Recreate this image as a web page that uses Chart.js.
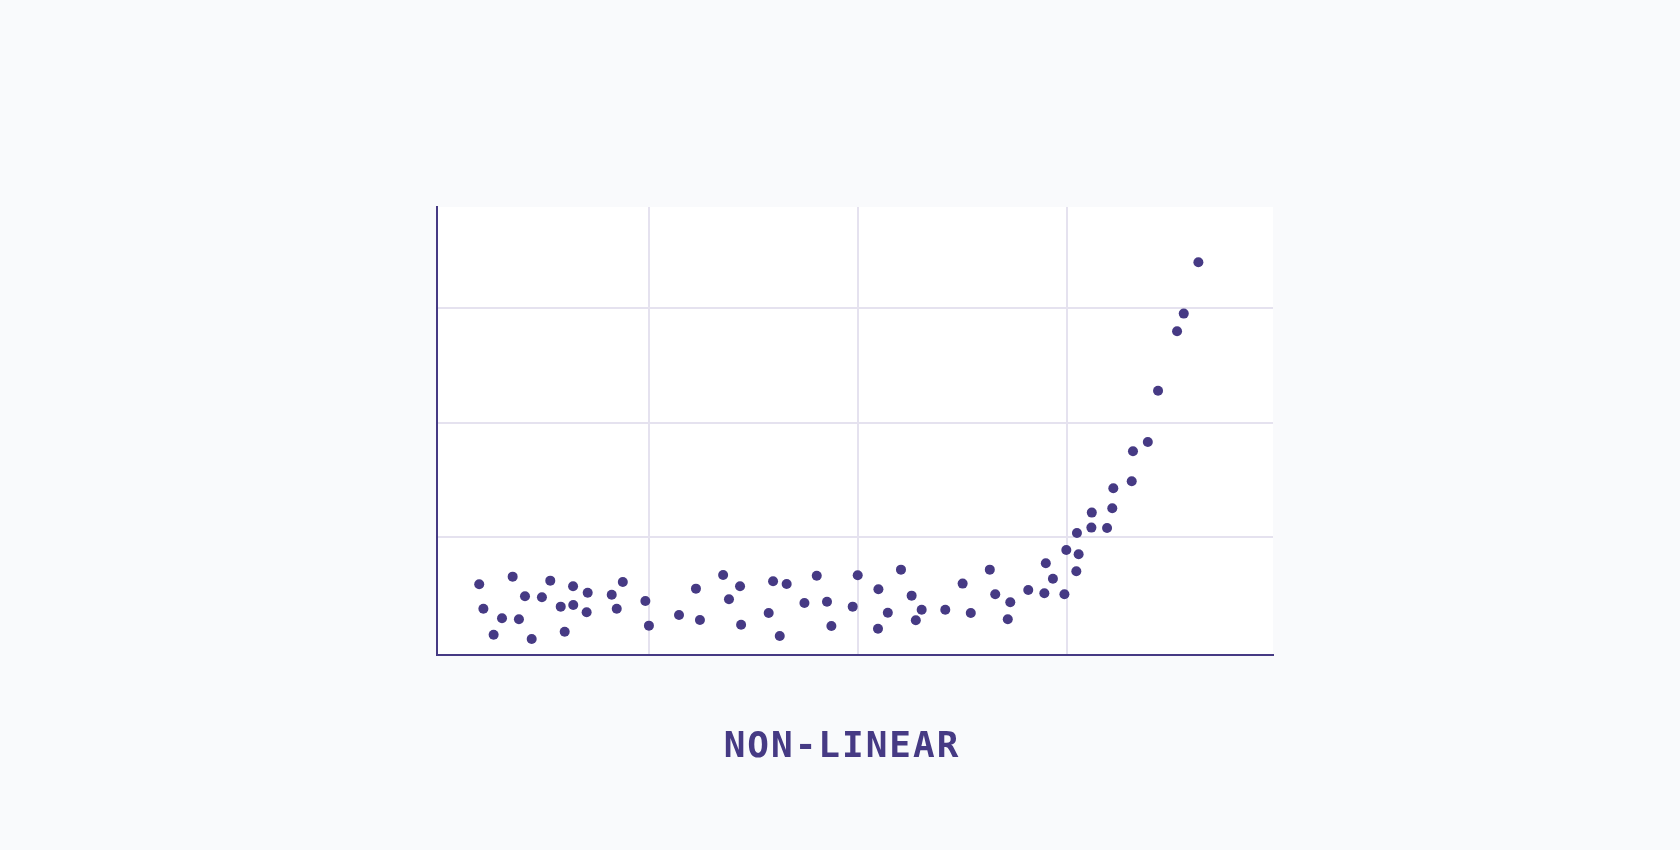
<!DOCTYPE html>
<html>
<head>
<meta charset="utf-8">
<script src="https://cdn.jsdelivr.net/npm/chart.js@4"></script>
<style>
    html, body { margin: 0; padding: 0; background: #f9fafc; }
    #wrap { position: relative; width: 1680px; height: 850px; }
    #chart { position: absolute; left: 0; top: 0; }
    #caption {
        position: absolute; left: 2px; top: 727px; width: 1680px;
        text-align: center; font: bold 36px/36px "DejaVu Sans Mono", monospace;
        letter-spacing: 2px; color: #463a84;
    }
</style>
</head>
<body>
<div id="wrap">
    <canvas id="chart" width="1680" height="850"></canvas>
    <div id="caption">NON-LINEAR</div>
</div>
<script>
// values (one grid step = 1 unit on each axis)
const xValues = [
    0.189, 0.209, 0.258, 0.298, 0.349, 0.379, 0.408, 0.440, 0.489, 0.529,
    0.579, 0.598, 0.638, 0.639, 0.708, 0.703, 0.823, 0.847, 0.876, 0.984,
    1.001, 1.145, 1.226, 1.245, 1.356, 1.384, 1.437, 1.442, 1.574, 1.595,
    1.627, 1.660, 1.745, 1.804, 1.853, 1.874, 1.976, 2.000, 2.099, 2.097,
    2.144, 2.207, 2.258, 2.278, 2.306, 2.419, 2.502, 2.541, 2.632, 2.658,
    2.718, 2.730, 2.816, 2.893, 2.900, 2.934, 2.989, 2.998, 3.046, 3.057,
    3.049, 3.118, 3.120, 3.193, 3.218, 3.223, 3.311, 3.317, 3.388, 3.437,
    3.528, 3.560, 3.630
];
const yValues = [
    0.591, 0.378, 0.151, 0.294, 0.658, 0.286, 0.486, 0.114, 0.478, 0.623,
    0.396, 0.177, 0.574, 0.410, 0.518, 0.347, 0.500, 0.378, 0.611, 0.445,
    0.230, 0.323, 0.553, 0.279, 0.672, 0.460, 0.574, 0.238, 0.341, 0.617,
    0.140, 0.594, 0.428, 0.666, 0.439, 0.227, 0.396, 0.670, 0.548, 0.203,
    0.343, 0.719, 0.492, 0.277, 0.369, 0.369, 0.597, 0.341, 0.719, 0.504,
    0.286, 0.434, 0.541, 0.513, 0.775, 0.640, 0.504, 0.891, 0.705, 0.853,
    1.039, 1.086, 1.217, 1.083, 1.255, 1.430, 1.491, 1.753, 1.834, 2.282,
    2.801, 2.955, 3.403
];
const xRange = [-0.013, 3.987];
const yRange = [-0.022, 3.886];
// grid lines (no tick labels are shown)
const xGridTicks = [1, 2, 3];
const yGridTicks = [1, 2, 3];

const INK = '#463a84';
const GRID = '#e5e2ef';

const plotBackground = {
    id: 'plotBackground',
    beforeDraw(chart) {
        const { ctx, chartArea: a } = chart;
        ctx.save();
        ctx.fillStyle = '#ffffff';
        ctx.fillRect(a.left, a.top, a.right - a.left, a.bottom - a.top);
        ctx.restore();
    }
};

const useTicks = list => axis => {
    axis.ticks = list.map(v => ({ value: v }));
};

new Chart(document.getElementById('chart').getContext('2d'), {
    type: 'scatter',
    data: {
        datasets: [{
            data: xValues.map((x, i) => ({ x: x, y: yValues[i] })),
            backgroundColor: INK,
            borderWidth: 0,
            pointRadius: 5,
            pointHoverRadius: 5
        }]
    },
    options: {
        responsive: false,
        animation: false,
        layout: {
            padding: { left: 437, top: 207, right: 407, bottom: 195.5 }
        },
        plugins: {
            legend: { display: false },
            tooltip: { enabled: false }
        },
        scales: {
            x: {
                type: 'linear',
                min: xRange[0],
                max: xRange[1],
                afterBuildTicks: useTicks(xGridTicks),
                ticks: { display: false },
                grid: { color: GRID, lineWidth: 2, drawTicks: false },
                border: { display: true, color: INK, width: 2 }
            },
            y: {
                type: 'linear',
                min: yRange[0],
                max: yRange[1],
                afterBuildTicks: useTicks(yGridTicks),
                ticks: { display: false },
                grid: { color: GRID, lineWidth: 2, drawTicks: false },
                border: { display: true, color: INK, width: 2 }
            }
        }
    },
    plugins: [plotBackground]
});
</script>
</body>
</html>
